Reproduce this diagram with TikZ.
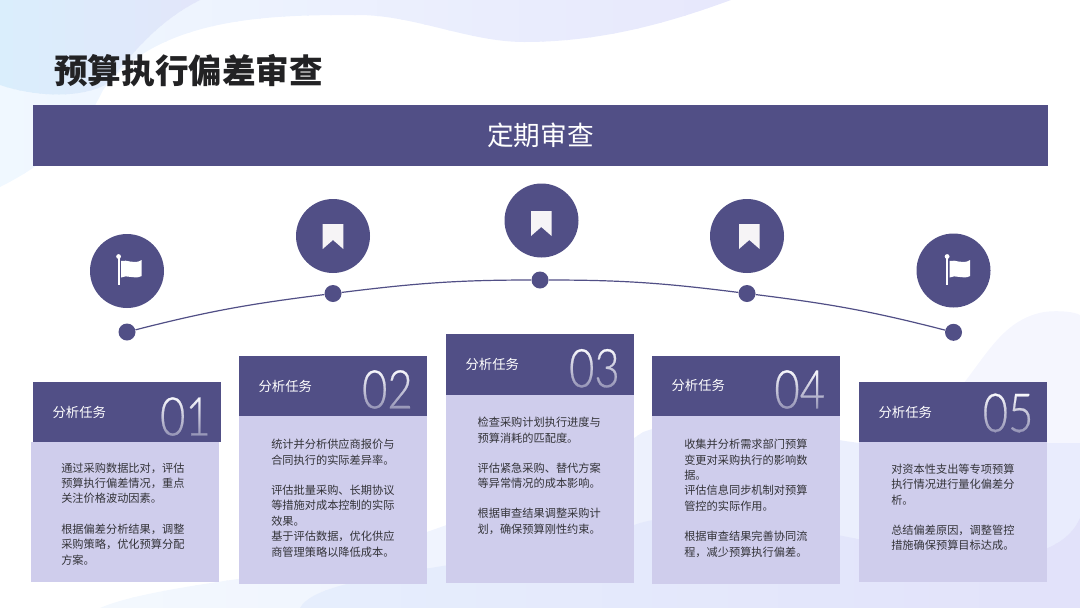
\documentclass[tikz,border=0pt]{standalone}
\usepackage{fontspec}
\setmainfont{Noto Sans CJK SC}
\newfontfamily\numfont[FakeBold=0.5]{Lato Light}
\definecolor{audit-band}{RGB}{81,79,134}
\definecolor{audit-body}{RGB}{207,205,236}
\definecolor{audit-text}{RGB}{51,51,56}
\definecolor{audit-title}{RGB}{34,34,36}
\definecolor{audit-icon}{RGB}{246,244,246}
\definecolor{wash-a}{RGB}{240,248,255}
\definecolor{wash-b}{RGB}{231,232,252}
\definecolor{wash-c}{RGB}{218,238,252}
\definecolor{wash-d}{RGB}{226,230,250}
\definecolor{wash-e}{RGB}{245,246,254}
\definecolor{wash-f}{RGB}{243,248,254}
\definecolor{wash-g}{RGB}{233,236,253}
\definecolor{wash-h}{RGB}{230,238,253}
\definecolor{wash-i}{RGB}{226,226,250}
\usetikzlibrary{positioning, calc, fadings}
% tiras verticais: cor #1 em x=#3 ate cor #2 em x=#4
\newcommand{\washstrips}[4]{
    \pgfmathsetmacro{\stripw}{(#4-#3)/31}
    \foreach \s in {0,...,30}{
        \pgfmathtruncatemacro{\mixval}{100-\s*100/30}
        \fill[color=#1!\mixval!#2] ({#3+\stripw*\s},0) rectangle ({#3+\stripw*(\s+1)+2},608);
    }
}

\begin{document}
\begin{tikzpicture}[
    x=0.75pt, y=-0.75pt,
    band/.style={rectangle, fill=audit-band, text=white, inner sep=0pt, outer sep=0pt, minimum width=761.25pt, minimum height=45.75pt, font=\fontsize{20}{24}\selectfont},
    icon/.style={circle, fill=audit-band, inner sep=0pt, minimum size=55.5pt},
    dot/.style={circle, fill=audit-band, inner sep=0pt, minimum size=12.75pt},
    head/.style={rectangle, fill=audit-band, inner sep=0pt, outer sep=0pt, minimum width=141pt, minimum height=45pt},
    body/.style={rectangle, fill=audit-body, inner sep=0pt, outer sep=0pt, minimum width=141pt},
    task/.style={text=white, inner sep=0pt, anchor=west, font=\fontsize{10}{12}\selectfont},
    num/.style={text=white!88!audit-body, inner sep=0pt, anchor=east, transform shape, xscale=0.82, font=\fontsize{40}{42}\numfont},
    numfade/.style={fill=audit-band, fill opacity=0.6, path fading=north},
    info/.style={text=audit-text, inner sep=0pt, align=left, font=\fontsize{8.4}{11.6}\selectfont},
    arc/.style={color=audit-band, line width=0.9pt},
    bookmark/.pic={\fill[audit-icon] (-10.3,-12.5) -- (10.3,-12.5) -- (10.3,12.5) -- (0,3.5) -- (-10.3,12.5) -- cycle;},
    flag/.pic={
        \fill[white] (-9.4,-14.5) rectangle (-7.4,14);
        \fill[white] (-8.4,-14.5) circle (2.4);
        \fill[white] (-6,-10) .. controls (0,-12) and (7,-6) .. (14.7,-11) -- (14.7,5) .. controls (7,9) and (0,3) .. (-6,6.5) -- cycle;}
]
    \useasboundingbox (0,0) rectangle (1080,608);

    % Fundo
    \begin{scope}
        \clip (0,0) -- (731,0) .. controls (676,20) and (607,42) .. (524,42) .. controls (469,42) and (414,15) .. (358,15) .. controls (276,15) and (160,15) .. (103,90) .. controls (80,140) and (34,170) .. (0,187) -- cycle;
        \washstrips{wash-a}{wash-b}{0}{731}
    \end{scope}
    \begin{scope}
        \clip (0,0) -- (200,0) .. controls (150,25) and (125,65) .. (105,85) .. controls (75,100) and (30,95) .. (0,85) -- cycle;
        \washstrips{wash-c}{wash-d}{0}{200}
    \end{scope}
    \fill[wash-e] (950,400) .. controls (985,360) and (1000,320) .. (1044,312) .. controls (1060,310) and (1075,312) .. (1080,315) -- (1080,450) -- (950,450) -- cycle;
    \begin{scope}
        \clip (100,608) .. controls (140,590) and (250,578) .. (300,570) .. controls (400,545) and (560,490) .. (643,432) .. controls (720,405) and (790,435) .. (860,443) -- (1080,443) -- (1080,608) -- cycle;
        \washstrips{wash-f}{wash-g}{100}{1080}
    \end{scope}
    \begin{scope}
        \clip (300,608) .. controls (320,570) and (500,570) .. (640,523) .. controls (760,490) and (960,590) .. (1050,547) .. controls (1065,540) and (1075,530) .. (1080,518) -- (1080,608) -- cycle;
        \washstrips{wash-h}{wash-i}{300}{1080}
    \end{scope}

    % Titulo e faixa
    \node[inner sep=0pt, anchor=west, text=audit-title, font=\fontsize{25.2}{30}\selectfont\bfseries] (title) at (54,71) {预算执行偏差审查};
    \node[band] (banner) at (540.5,135.5) {定期审查};

    % Icones
    \node[icon] (i1) at (127,271) {};
    \node[icon] (i2) at (333,236) {};
    \node[icon] (i3) at (541.5,220.5) {};
    \node[icon] (i4) at (747,236) {};
    \node[icon] (i5) at (953.5,270.5) {};
    \pic at (127,271) {flag};
    \pic at (333,236.5) {bookmark};
    \pic at (541.3,223.5) {bookmark};
    \pic at (749.3,236.5) {bookmark};
    \pic at (955.5,271) {flag};

    % Curva
    \node[dot] (d1) at (127,332) {};
    \node[dot] (d2) at (333,293.5) {};
    \node[dot] (d3) at (540,280) {};
    \node[dot] (d4) at (747,293.5) {};
    \node[dot] (d5) at (953.5,332.3) {};
    \draw[arc] (d1) to[out=14.4, in=187.1] (d2);
    \draw[arc] (d2) to[out=7.1, in=180] (d3);
    \draw[arc] (d3) to[out=0, in=172.9] (d4);
    \draw[arc] (d4) to[out=-7.1, in=165.6] (d5);

    % Cartoes
    \node[head] (h1) at (127,411.5) {};
    \node[body, below=0pt of h1, xshift=-1.5pt, minimum height=105pt] (b1) {};
    \node[task, right=14.5pt of h1.west, yshift=-0.4pt] (k1) {分析任务};
    \node[num, left=7.5pt of h1.east, yshift=-3.8pt] (n1) {01};
    \fill[numfade] (n1.north west) rectangle (n1.south east);
    \node[info, below right=15.6pt and 22.5pt of b1.north west] (t1) {通过采购数据比对，评估\\预算执行偏差情况，重点\\关注价格波动因素。\\[11pt]根据偏差分析结果，调整\\采购策略，优化预算分配\\方案。};

    \node[head] (h2) at (333,385.5) {};
    \node[body, below=0pt of h2, minimum height=126pt] (b2) {};
    \node[task, right=14.5pt of h2.west, yshift=-0.7pt] (k2) {分析任务};
    \node[num, left=10.5pt of h2.east, yshift=-3pt] (n2) {02};
    \fill[numfade] (n2.north west) rectangle (n2.south east);
    \node[info, below right=17.5pt and 24pt of b2.north west] (t2) {统计并分析供应商报价与\\合同执行的实际差异率。\\[11pt]评估批量采购、长期协议\\等措施对成本控制的实际\\效果。\\基于评估数据，优化供应\\商管理策略以降低成本。};

    \node[head, minimum height=46pt] (h3) at (540,364.3) {};
    \node[body, below=0pt of h3, minimum height=141pt] (b3) {};
    \node[task, right=14.5pt of h3.west] (k3) {分析任务};
    \node[num, left=10.5pt of h3.east, yshift=-3pt] (n3) {03};
    \fill[numfade] (n3.north west) rectangle (n3.south east);
    \node[info, below right=16.5pt and 23.5pt of b3.north west] (t3) {检查采购计划执行进度与\\预算消耗的匹配度。\\[11pt]评估紧急采购、替代方案\\等异常情况的成本影响。\\[11pt]根据审查结果调整采购计\\划，确保预算刚性约束。};

    \node[head] (h4) at (746,385.5) {};
    \node[body, below=0pt of h4, minimum height=126pt] (b4) {};
    \node[task, right=14.5pt of h4.west] (k4) {分析任务};
    \node[num, left=11pt of h4.east, yshift=-3pt] (n4) {04};
    \fill[numfade] (n4.north west) rectangle (n4.south east);
    \node[info, below right=17.5pt and 24pt of b4.north west] (t4) {收集并分析需求部门预算\\变更对采购执行的影响数\\据。\\评估信息同步机制对预算\\管控的实际作用。\\[11pt]根据审查结果完善协同流\\程，减少预算执行偏差。};

    \node[head] (h5) at (953,411.5) {};
    \node[body, below=0pt of h5, minimum height=105pt] (b5) {};
    \node[task, right=14.5pt of h5.west, yshift=-1pt] (k5) {分析任务};
    \node[num, left=10pt of h5.east, yshift=-1pt] (n5) {05};
    \fill[numfade] (n5.north west) rectangle (n5.south east);
    \node[info, below right=16.4pt and 24pt of b5.north west] (t5) {对资本性支出等专项预算\\执行情况进行量化偏差分\\析。\\[11pt]总结偏差原因，调整管控\\措施确保预算目标达成。};
\end{tikzpicture}
\end{document}
